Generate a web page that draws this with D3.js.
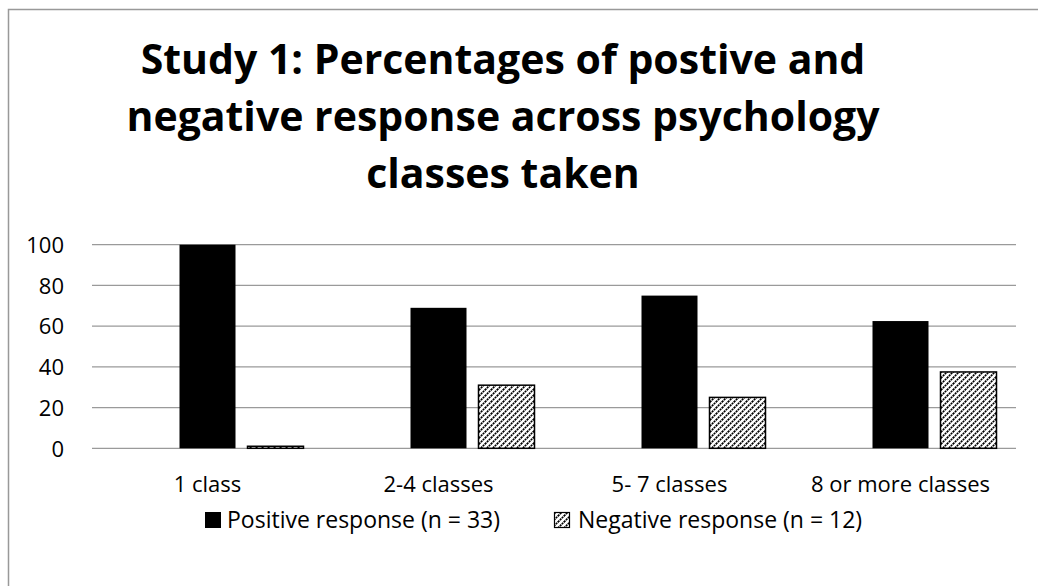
<!DOCTYPE html>
<html>
<head>
<meta charset="utf-8">
<script src="https://cdn.jsdelivr.net/npm/d3@7"></script>
<style>
  html, body { margin: 0; padding: 0; background: #fff; }
  svg { display: block; }
  text { font-family: "Open Sans", "Noto Sans", sans-serif; fill: #000; }
</style>
</head>
<body>
<svg id="chart" width="1038" height="586"></svg>
<script>
const titleLines = ["Study 1: Percentages of postive and", "negative response across psychology", "classes taken"];
const categories = ["1 class", "2-4 classes", "5- 7 classes", "8 or more classes"];
const seriesNames = ["Positive response (n = 33)", "Negative response (n = 12)"];
const positiveValues = [100, 69, 75, 62.5];
const negativeValues = [1, 31, 25, 37.5];
const yTicks = [0, 20, 40, 60, 80, 100];

const svg = d3.select("#chart");
const W = 1038, H = 586;

// outer frame
svg.append("rect").attr("x", 8.5).attr("y", 9.5).attr("width", W + 10).attr("height", H + 10)
  .attr("fill", "#fff").attr("stroke", "#999").attr("stroke-width", 1.5);

// hatch pattern
const defs = svg.append("defs");
const pat = defs.append("pattern").attr("id", "hatch").attr("patternUnits", "userSpaceOnUse")
  .attr("width", 6).attr("height", 6);
pat.append("rect").attr("width", 6).attr("height", 6).attr("fill", "#fff");
pat.append("path").attr("d", "M0,6 L6,0 M-1,1 L1,-1 M5,7 L7,5")
  .attr("stroke", "#000").attr("stroke-width", 1.7).attr("stroke-dasharray", "2,0.7");

// title
const title = svg.append("text").attr("text-anchor", "middle")
  .style("font-weight", "bold").style("font-size", "41px");
titleLines.forEach((t, i) => {
  title.append("tspan").attr("x", 503).attr("y", 74 + i * 57).text(t);
});

// scales
const x0 = d3.scaleBand().domain(categories).range([92, 1016]);
const groupW = 192;
const x1 = d3.scaleBand().domain(["blank", "pos", "neg"])
  .range([(x0.bandwidth() - groupW) / 2, (x0.bandwidth() + groupW) / 2])
  .paddingInner(12 / 68);
const y = d3.scaleLinear().domain([0, 100]).range([448.3, 244.7]);

// gridlines
svg.append("g").selectAll("line").data(yTicks).join("line")
  .attr("x1", 92).attr("x2", 1016)
  .attr("y1", d => y(d)).attr("y2", d => y(d))
  .attr("stroke", "#9a9a9a").attr("stroke-width", 1.3);

// y axis labels
const yAxis = d3.axisLeft(y).tickValues(yTicks).tickSize(0).tickPadding(0);
const yg = svg.append("g").attr("transform", "translate(64,0)").call(yAxis);
yg.select(".domain").remove();
yg.selectAll("text").style("font-size", "22px").style("font-family", '"Open Sans", sans-serif')
  .attr("fill", "#000").attr("dy", "0.35em");

// bars
const groups = svg.append("g").selectAll("g").data(categories).join("g")
  .attr("transform", d => `translate(${x0(d)},0)`);
groups.append("rect")
  .attr("x", x1("pos")).attr("width", x1.bandwidth())
  .attr("y", (d, i) => y(positiveValues[i]))
  .attr("height", (d, i) => y(0) - y(positiveValues[i]))
  .attr("fill", "#000");
groups.append("rect")
  .attr("x", x1("neg")).attr("width", x1.bandwidth())
  .attr("y", (d, i) => y(negativeValues[i]))
  .attr("height", (d, i) => y(0) - y(negativeValues[i]))
  .attr("fill", "url(#hatch)").attr("stroke", "#000").attr("stroke-width", 1.5);

// category labels
const xAxis = d3.axisBottom(x0).tickSize(0).tickPadding(0);
const xg = svg.append("g").attr("transform", "translate(0,492)").call(xAxis);
xg.select(".domain").remove();
xg.selectAll("text").style("font-size", "22px").style("font-family", '"Open Sans", sans-serif')
  .attr("fill", "#000").attr("dy", 0).attr("y", 0);

// legend
const legendY = 528;
const leg1 = svg.append("g");
leg1.append("rect").attr("x", 205).attr("y", legendY - 16).attr("width", 16).attr("height", 16).attr("fill", "#000");
leg1.append("text").attr("x", 227).attr("y", legendY).style("font-size", "23px").text(seriesNames[0]);
const leg2 = svg.append("g");
leg2.append("rect").attr("x", 554.5).attr("y", legendY - 15.5).attr("width", 15).attr("height", 15)
  .attr("fill", "url(#hatch)").attr("stroke", "#000").attr("stroke-width", 1.2);
leg2.append("text").attr("x", 578).attr("y", legendY).style("font-size", "23px").text(seriesNames[1]);
</script>
</body>
</html>
